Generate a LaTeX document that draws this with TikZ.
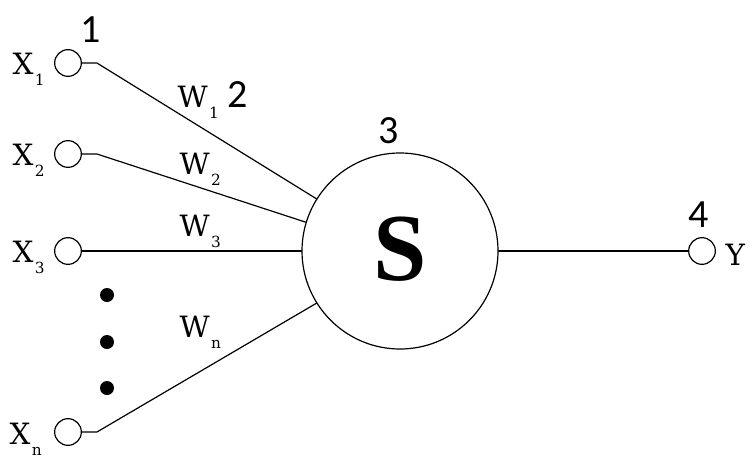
\documentclass[tikz,border=0pt]{standalone}
\usepackage{fontspec}
\newfontfamily\numfont{Carlito}
\newfontfamily\labfont{DejaVu Serif}
\newfontfamily\sumfont{Liberation Serif}
\usepackage{tikz}

\newcommand{\lab}[2]{#1\kern1pt\raisebox{-8.25pt}{\fontsize{11.5}{11.5}\selectfont #2}}

\begin{document}
\begin{tikzpicture}[line cap=round,line join=round,x=0.75pt,y=-0.75pt, line width=0.9pt,
                    inp/.style={circle, draw, minimum size=20pt, inner sep=0pt},
                    dot/.style={circle, fill, minimum size=10.5pt, inner sep=0pt},
                    sum/.style={circle, draw, minimum size=147pt, inner sep=0pt, font=\sumfont\bfseries\fontsize{72}{72}\selectfont},
                    lbl/.style={anchor=base west, inner sep=0pt, font=\labfont\fontsize{22}{22}\selectfont},
                    num/.style={anchor=base, inner sep=0pt, font=\numfont\fontsize{30}{30}\selectfont}]
                        \useasboundingbox (0,0) rectangle (755,464);

                        \node[inp] (x1) at (68,63) {};
                        \node[inp] (x2) at (68,154) {};
                        \node[inp] (x3) at (68,251) {};
                        \node[inp] (xn) at (68,432) {};

                        \node[dot] (d1) at (107,295) {};
                        \node[dot] (d2) at (107,342) {};
                        \node[dot] (d3) at (107,388) {};

                        \node[sum] (s) at (400,251) {\raisebox{3pt}{S}};
                        \node[inp] (y) at (702,251) {};

                        \node[lbl] (lx1) at (12,74) {\lab{X}{1}};
                        \node[lbl] (lx2) at (12,165) {\lab{X}{2}};
                        \node[lbl] (lx3) at (12,262) {\lab{X}{3}};
                        \node[lbl] (lxn) at (9,444) {\lab{X}{n}};
                        \node[lbl] (ly) at (725,265) {Y};

                        \node[lbl] (lw1) at (177,107) {\lab{W}{1}};
                        \node[lbl] (lw2) at (179,174) {\lab{W}{2}};
                        \node[lbl] (lw3) at (179,236) {\lab{W}{3}};
                        \node[lbl] (lwn) at (179,337) {\lab{W}{n}};

                        \node[num] (n1) at (91,42) {1};
                        \node[num] (n2) at (238,107) {2};
                        \node[num] (n3) at (389,143) {3};
                        \node[num] (n4) at (699,227) {4};

                        \draw (x1.east) -- ++(15,0) -- (s.148);
                        \draw (x2.east) -- ++(15,0) -- (s.163);
                        \draw (x3.east) -- (s.west);
                        \draw (xn.east) -- ++(15,0) -- (s.212);
                        \draw (s.east) -- (y.west);
                    \end{tikzpicture}
\end{document}
